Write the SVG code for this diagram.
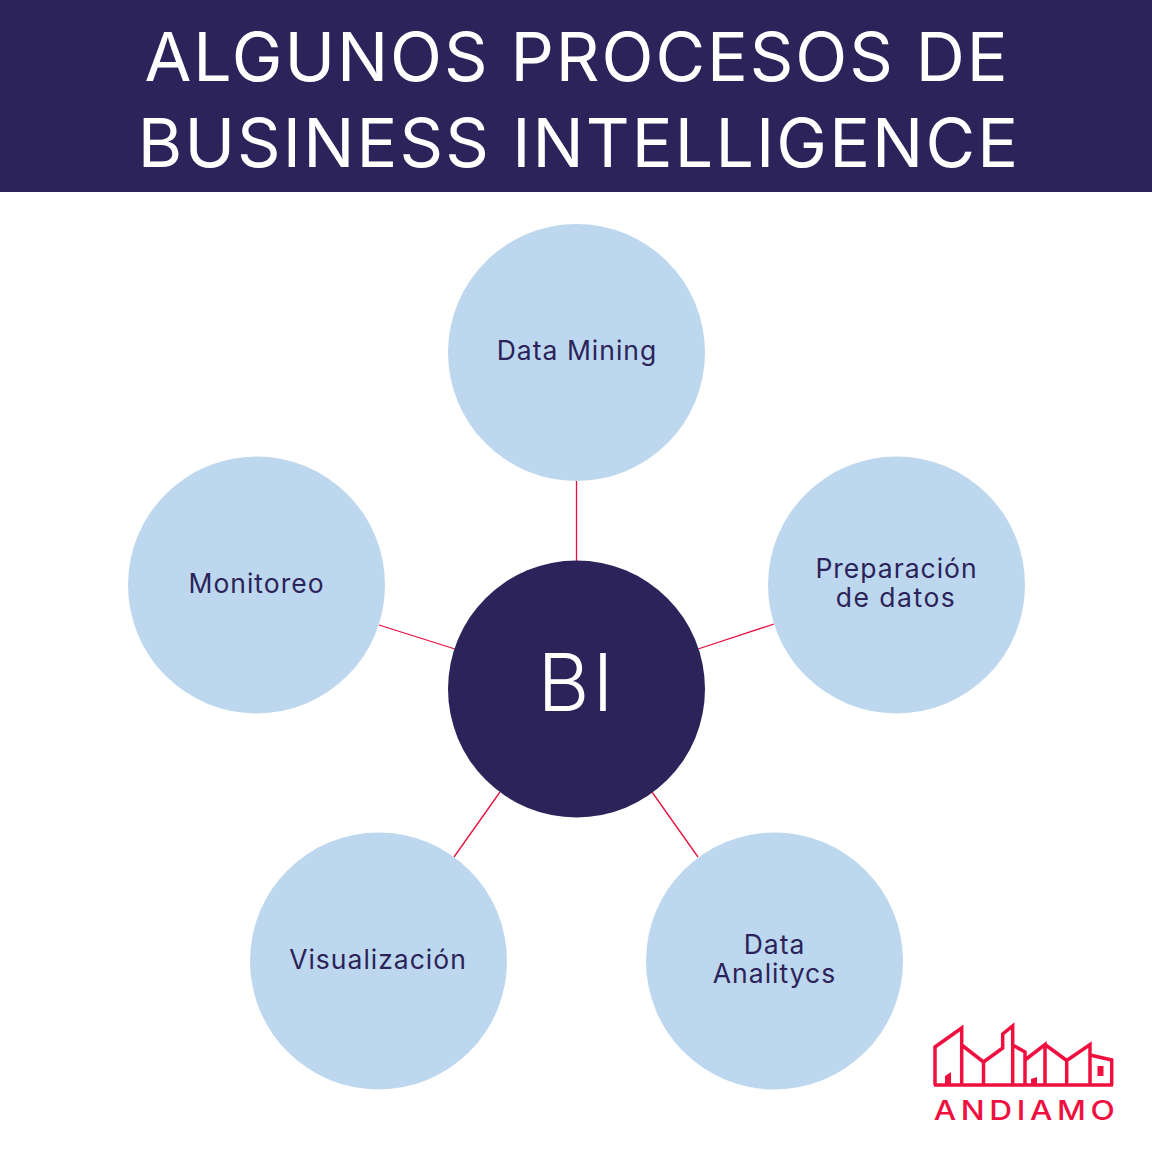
<svg xmlns="http://www.w3.org/2000/svg" width="1152" height="1152" viewBox="0 0 1152 1152">
<style>
.t{font-family:"Inter","Liberation Sans",sans-serif;text-anchor:middle}
.title{font-size:68px;fill:#fff;font-weight:430}
.lbl{font-size:26.5px;fill:#2b2359;letter-spacing:1px}
.node{fill:#bdd7ee}
.conn line{stroke:#e8103f;stroke-width:1.3}
.logo path{fill:none;stroke:#f0103f;stroke-width:3.500}
.logo .f{fill:#f0103f;stroke:none}
</style>
<rect width="1152" height="1152" fill="#fff"/>
<g id="header"><rect width="1152" height="192" fill="#2b2359"/>
<text class="t title" x="577" y="81" letter-spacing="1.900">ALGUNOS PROCESOS DE</text>
<text class="t title" x="579" y="166.500" letter-spacing="2.100">BUSINESS INTELLIGENCE</text></g>
<g id="connectors" class="conn">
<line x1="576.5" y1="480" x2="576.5" y2="562"/>
<line x1="379" y1="625" x2="455" y2="649"/>
<line x1="774" y1="624" x2="698" y2="649"/>
<line x1="500" y1="792" x2="454" y2="857"/>
<line x1="652" y1="792" x2="698" y2="857"/>
</g>
<g id="node-bi"><circle cx="576.5" cy="689" r="128.5" fill="#2b2359"/><text class="t" x="577" y="711" font-size="80" font-weight="350" letter-spacing="3" fill="#fff">BI</text></g>
<g id="node-data-mining"><circle class="node" cx="576.5" cy="352.500" r="128.500"/><text class="t lbl" x="577" y="360">Data Mining</text></g>
<g id="node-preparacion"><circle class="node" cx="896.500" cy="585" r="128.500"/><text class="t lbl" x="896.500" y="578">Preparación</text><text class="t lbl" x="896" y="607" style="letter-spacing:1.500px">de datos</text></g>
<g id="node-monitoreo"><circle class="node" cx="256.500" cy="585" r="128.500"/><text class="t lbl" x="256.500" y="593">Monitoreo</text></g>
<g id="node-visualizacion"><circle class="node" cx="378.500" cy="961" r="128.500"/><text class="t lbl" x="378" y="969">Visualización</text></g>
<g id="node-data-analitycs"><circle class="node" cx="774.500" cy="961" r="128.500"/><text class="t lbl" x="774.500" y="954">Data</text><text class="t lbl" x="774.500" y="983">Analitycs</text></g>
<g id="logo" class="logo">
<path d="M935 1085V1047L961.700 1028V1085M961.700 1045L983.500 1062L1002.700 1048V1034L1012.700 1026V1085M983.500 1062V1085M1012.700 1045L1025 1052V1085M1025 1060L1045 1044.500V1085M1045 1044.500L1066.700 1060.500L1090 1044.500V1085M1066.700 1060.500V1085M1090 1055L1111.700 1060V1085M934 1085H1113"/>
<path class="f" d="M945 1085V1076L951 1072V1085ZM1031 1085V1079L1037 1077V1085ZM1097.500 1066H1103.500V1076H1097.500Z"/>
<text class="t f" transform="translate(1026.500 1119.500) scale(1.150 1)" font-size="27.500" font-weight="500" letter-spacing="4">ANDIAMO</text>
</g>
</svg>
